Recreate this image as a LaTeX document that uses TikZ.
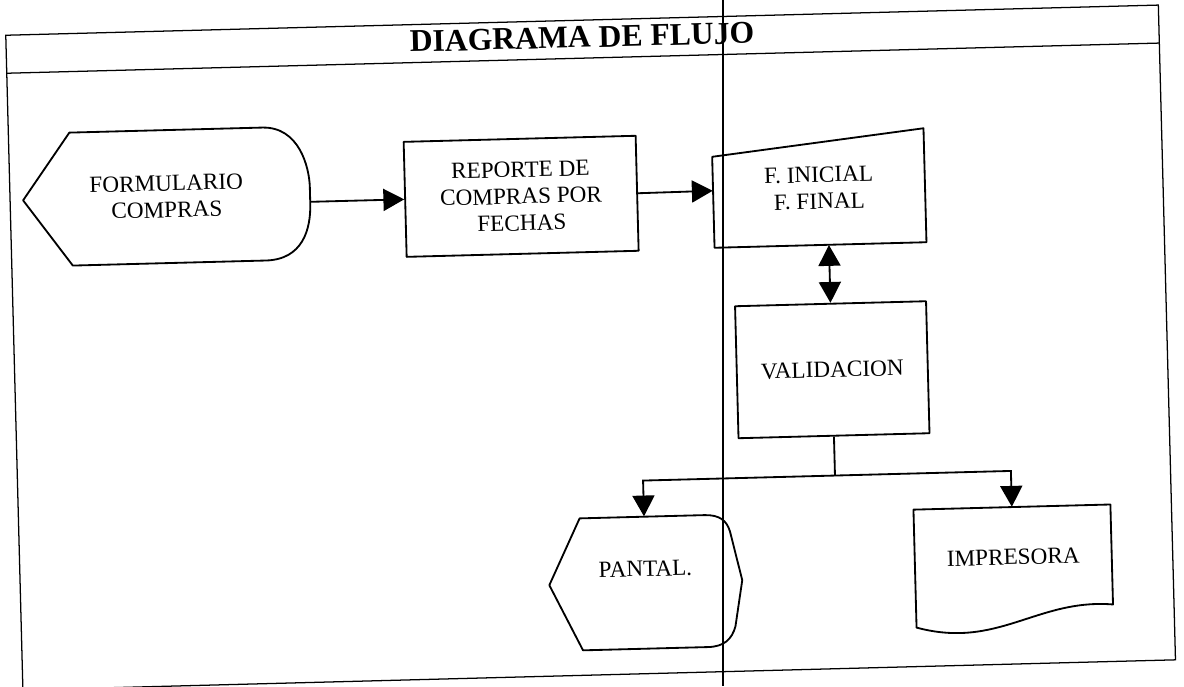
\documentclass[tikz,border=0pt]{standalone}
\usepackage{fontspec}
\setmainfont{Liberation Serif}
\usetikzlibrary{arrows.meta}

\begin{document}
\begin{tikzpicture}[x=0.025cm,y=-0.025cm,>={Triangle[length=0.52cm,width=0.55cm]},
  every node/.style={font=\fontsize{16.5}{19}\selectfont,align=center,inner sep=0pt},
  frame/.style={line width=0.9pt},
  outline/.style={line width=1.3pt,line join=round},
  flow/.style={line width=1.3pt},
  box/.style={draw,outline,rectangle}]
\useasboundingbox (0,0) rectangle (1184,686);
\begin{scope}[rotate around={1.5:(592,343)},transform shape]
% ==================== FRAME AND TITLE ====================
\draw[frame] (14,20) rectangle (1167,675);
\draw[frame] (14,58) -- (1167,58);
\node[font=\bfseries\fontsize{22.5}{26}\selectfont] (title) at (590,37) {DIAGRAMA DE FLUJO};

% ==================== TOP ROW ====================
% Formulario (display)
\node[minimum width=7.175cm,minimum height=3.325cm] (form) at (170.5,185.5) {FORMULARIO\\COMPRAS};
\draw[outline] (75,119) -- (268,119) .. controls (305,119) and (314,160) .. (314,180) -- (314,196)
  .. controls (314,222) and (305,252) .. (268,252) -- (75,252) -- (27,185.5) -- cycle;
% Reporte
\node[box,minimum width=5.8cm,minimum height=2.875cm] (rep) at (525,194.5) {REPORTE DE\\COMPRAS POR\\FECHAS};
% Fechas (manual input)
\node[minimum width=5.3cm,minimum height=2.85cm] (finic) at (823,194) {F. INICIAL\\F. FINAL};
\draw[outline] (717,160) -- (929,137) -- (929,251) -- (717,251) -- cycle;

% ==================== LOWER PART ====================
% Validacion
\node[box,minimum width=4.775cm,minimum height=3.3cm] (valid) at (831.5,376) {VALIDACION};
% Pantalla (display)
\node[minimum width=4.825cm,minimum height=3.3cm,text depth=20pt] (pant) at (639.5,584) {PANTAL.};
\draw[outline] (575,518) -- (700,518) .. controls (715,518) and (722,524) .. (725,535) -- (736,584) -- (728,630)
  .. controls (724,643) and (716,650) .. (700,650) -- (575,650) -- (543,584) -- cycle;
% Impresora (document)
\node[minimum width=4.925cm,minimum height=2.5cm] (impr) at (1007.5,568) {IMPRESORA};
\draw[outline] (909,518) -- (1106,518) -- (1106,618) .. controls (1030,610) and (990,660) .. (909,636) -- cycle;

% ==================== CONNECTORS ====================
\draw[flow,->] (form.east |- rep.west) -- (rep.west);
\draw[flow,->] (rep.east) -- (finic.west);
\draw[flow,<->] (finic.south -| valid.north) -- (valid.north);
\draw[flow] (valid.south) -- ++(0,39) coordinate (split);
\draw[flow,->] (split) -| (pant.north);
\draw[flow,->] (split) -| (impr.north);
\end{scope}
% Fold line of the sheet
\draw[line width=1.7pt] (723,0) -- (723,686);
\end{tikzpicture}
\end{document}
